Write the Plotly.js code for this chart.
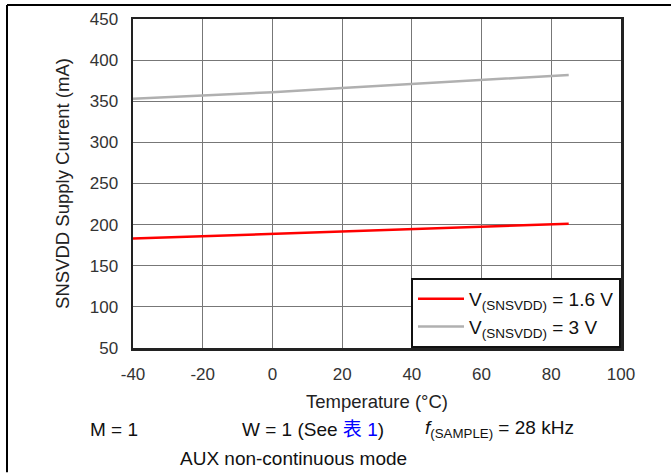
<!DOCTYPE html>
<html><head><meta charset="utf-8">
<script src="https://cdn.plot.ly/plotly-3.0.1.min.js"></script>
<style>html,body{margin:0;padding:0;background:#fff}#chart{width:671px;height:473px}</style>
</head><body><div id="chart"></div>
<script>
const temps = [-40, -20, 0, 20, 40, 60, 85];
const current16V = [183, 186, 189, 192, 195, 198, 201];
const current3V = [353, 357, 361, 366, 371, 376, 382];
const seriesNames = [
  'V<sub><span style="font-size:13.5px">(SNSVDD)</span></sub> = 1.6 V',
  'V<sub><span style="font-size:13.5px">(SNSVDD)</span></sub> = 3 V'
];
const xTicks = [-40, -20, 0, 20, 40, 60, 80, 100];
const yTicks = [50, 100, 150, 200, 250, 300, 350, 400, 450];

const W = 671, H = 473;
const L = 133, R = 621, T = 19, B = 348.5;
const pw = R - L, ph = B - T;
const px = x => (x - L) / pw;
const py = y => (B - y) / ph;
const font = 'Arial, "Liberation Sans", "Noto Sans CJK SC", sans-serif';

const traces = [
  {x: temps, y: current16V, name: seriesNames[0], mode: 'lines', line: {color: '#ff0000', width: 2.5}},
  {x: temps, y: current3V, name: seriesNames[1], mode: 'lines', line: {color: '#b0b0b0', width: 2.5}}
];

const layout = {
  width: W, height: H,
  margin: {l: L, r: W - R, t: T, b: H - B},
  paper_bgcolor: '#fff', plot_bgcolor: '#fff',
  font: {family: font, size: 17, color: '#222'},
  showlegend: true,
  legend: {x: 1, y: 0, xanchor: 'right', yanchor: 'bottom',
    bordercolor: '#111', borderwidth: 2, bgcolor: '#fff', itemwidth: 46,
    font: {family: font, size: 19, color: '#111'}, tracegroupgap: 0},
  xaxis: {range: [-40, 100], tickvals: xTicks, ticktext: xTicks.map(String),
    showgrid: true, gridcolor: '#777', gridwidth: 1, zeroline: false,
    showline: true, linecolor: '#222', linewidth: 2.5, mirror: true,
    ticks: '', ticklen: 0, ticklabelstandoff: 9, tickfont: {size: 17, color: '#333'},
    title: {text: 'Temperature (°C)', font: {size: 18.5, color: '#222'}, standoff: 12}},
  yaxis: {range: [50, 450], tickvals: yTicks, ticktext: yTicks.map(String),
    showgrid: true, gridcolor: '#777', gridwidth: 1, zeroline: false,
    showline: true, linecolor: '#222', linewidth: 2.5, mirror: true,
    ticks: '', ticklen: 0, ticklabelstandoff: 9, tickfont: {size: 17, color: '#333'},
    title: {text: 'SNSVDD Supply Current (mA)', font: {size: 18.5, color: '#222'}, standoff: 15}},
  shapes: [
    {type: 'line', xref: 'paper', yref: 'paper', x0: px(7), x1: px(671), y0: py(5), y1: py(5), line: {color: '#000', width: 2}},
    {type: 'line', xref: 'paper', yref: 'paper', x0: px(7), x1: px(7), y0: py(5), y1: py(473), line: {color: '#000', width: 2}}
  ],
  annotations: [
    {xref: 'paper', yref: 'paper', x: px(88), y: py(430), xanchor: 'left', yanchor: 'middle', showarrow: false,
      text: 'M = 1', font: {size: 19, color: '#111'}},
    {xref: 'paper', yref: 'paper', x: px(240), y: py(430), xanchor: 'left', yanchor: 'middle', showarrow: false,
      text: 'W = 1 (See <span style="color:#0000ff">表 1</span>)', font: {size: 19, color: '#111'}},
    {xref: 'paper', yref: 'paper', x: px(423), y: py(430), xanchor: 'left', yanchor: 'middle', showarrow: false,
      text: '<i>f</i><sub>(SAMPLE)</sub> = 28 kHz', font: {size: 19, color: '#111'}},
    {xref: 'paper', yref: 'paper', x: px(178), y: py(459), xanchor: 'left', yanchor: 'middle', showarrow: false,
      text: 'AUX non-continuous mode', font: {size: 19, color: '#111'}}
  ]
};

Plotly.newPlot('chart', traces, layout, {staticPlot: true, displayModeBar: false});
</script></body></html>
